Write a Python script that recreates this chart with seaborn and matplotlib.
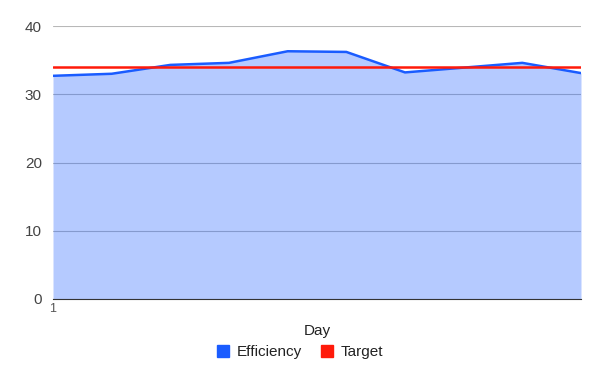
import matplotlib
matplotlib.use("Agg")
import matplotlib.pyplot as plt
import seaborn as sns
import pandas as pd
from matplotlib.patches import Patch

# values
days = [1, 2, 3, 4, 5, 6, 7, 8, 9, 10]
efficiency = [32.7, 33.0, 34.3, 34.6, 36.3, 36.2, 33.2, 33.9, 34.6, 33.1]
target = [34, 34, 34, 34, 34, 34, 34, 34, 34, 34]

df = pd.DataFrame({"Day": days, "Efficiency": efficiency, "Target": target})

sns.set_style("white")
plt.rcParams['font.family'] = ['Arial', 'Liberation Sans', 'DejaVu Sans']

blue = "#1a5cff"
red = "#ff1a0a"

fig = plt.figure(figsize=(6, 3.71), dpi=100)
ax = fig.add_axes([53/600, 1 - 299/371, 528/600, 273/371])

ax.fill_between(df["Day"], df["Efficiency"], 0, color=blue, alpha=0.32, lw=0, zorder=1)
sns.lineplot(data=df, x="Day", y="Efficiency", color=blue, lw=1.8, ax=ax, zorder=3)
sns.lineplot(data=df, x="Day", y="Target", color=red, lw=1.8, ax=ax, zorder=4)

ax.set_xlim(1, 10)
ax.set_ylim(0, 40)
ax.set_yticks([0, 10, 20, 30, 40])
ax.set_xticks([1])
ax.set_xticklabels(["1"], fontsize=9, color="#555555")
ax.tick_params(axis="y", labelsize=11, colors="#444444", length=0, pad=8)
ax.tick_params(axis="x", length=0, pad=3)
ax.set_axisbelow(True)
ax.yaxis.grid(True, color="#b8b8b8", lw=0.8)
for s in ["top", "right", "left"]:
    ax.spines[s].set_visible(False)
ax.spines["bottom"].set_color("#333333")
ax.spines["bottom"].set_zorder(5)
ax.set_ylabel("")
ax.set_xlabel("Day", fontsize=11, color="#222222", labelpad=6)

handles = [Patch(color=blue, label="Efficiency"), Patch(color=red, label="Target")]
fig.legend(handles=handles, loc="center", bbox_to_anchor=(0.5, 1 - 352/371), ncol=2,
           frameon=False, fontsize=11, handlelength=0.8, handleheight=0.8,
           handletextpad=0.5, columnspacing=1.2, labelcolor="#222222")

fig.savefig("out.png", dpi=100)
